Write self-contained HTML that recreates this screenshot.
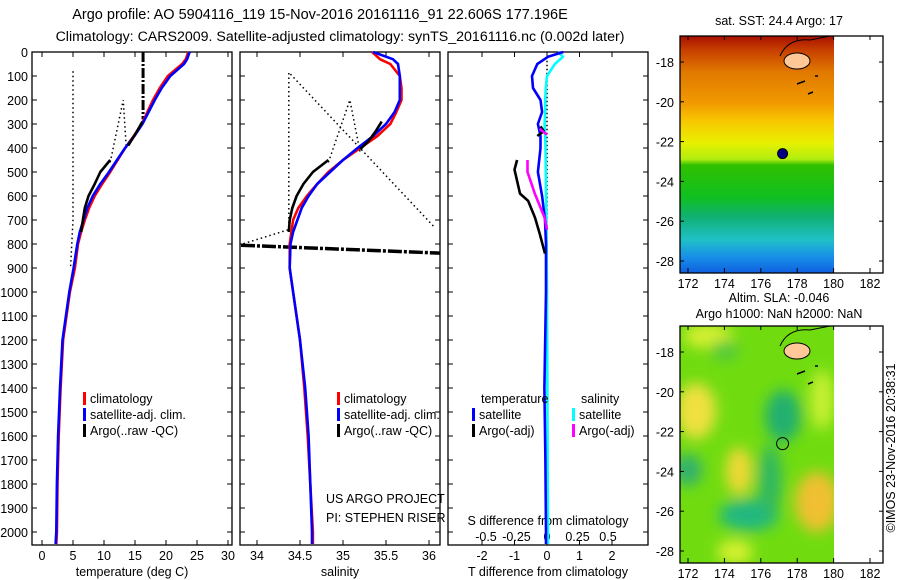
<!DOCTYPE html>
<html><head><meta charset="utf-8"><style>
html,body{margin:0;padding:0;background:#fff;}
svg{display:block;font-family:"Liberation Sans",sans-serif;}
text{font-size:12.5px;fill:#000;}
</style></head><body>
<svg id="c" width="900" height="580" viewBox="0 0 900 580" xmlns="http://www.w3.org/2000/svg">
<defs>
<linearGradient id="sstg" x1="0" y1="0" x2="0" y2="1">
<stop offset="0" stop-color="#a81000"/><stop offset="0.06" stop-color="#c84000"/>
<stop offset="0.15" stop-color="#e07800"/><stop offset="0.28" stop-color="#f09800"/>
<stop offset="0.36" stop-color="#f8c800"/><stop offset="0.45" stop-color="#e8f000"/>
<stop offset="0.52" stop-color="#b0ee10"/><stop offset="0.545" stop-color="#30c000"/>
<stop offset="0.68" stop-color="#10c020"/><stop offset="0.76" stop-color="#10b070"/>
<stop offset="0.86" stop-color="#20c0c8"/><stop offset="0.93" stop-color="#1890e8"/>
<stop offset="1" stop-color="#1060e0"/>
</linearGradient>
<filter id="blur" x="-50%" y="-50%" width="200%" height="200%"><feGaussianBlur stdDeviation="7"/></filter>
<clipPath id="m2clip"><rect x="680" y="326" width="154" height="237"/></clipPath>
</defs>
</svg>
<script>
// ---- data ----
const depthClim = [0,30,50,100,150,200,250,300,350,400,450,500,550,600,650,700,750,800,900,1000,1200,1400,1600,1800,2000,2050];
const tempClim  = [23.6,23.2,22.6,20.3,19.0,17.9,17.0,16.1,14.8,13.4,12.2,11.0,9.7,8.5,7.6,6.9,6.3,5.8,5.3,4.5,3.4,3.0,2.7,2.5,2.4,2.3];
const tempSat   = [23.8,23.4,22.9,20.7,19.3,18.2,17.2,16.2,14.9,13.4,12.1,10.8,9.4,8.2,7.3,6.7,6.1,5.7,5.1,4.4,3.3,2.9,2.6,2.4,2.3,2.2];
const depthArgoT = [290,340,390,420,450,500,550,600,650,700,750];
const tempArgo   = [16.2,15.1,13.9,null,11.0,9.4,8.5,7.5,6.9,6.6,6.3];
const salClim = [35.34,35.43,35.55,35.66,35.68,35.68,35.62,35.55,35.40,35.20,35.00,34.83,34.70,34.58,34.48,34.42,34.40,34.38,34.38,34.42,34.50,34.55,34.59,34.62,34.65,34.65];
const salSat  = [35.35,35.58,35.64,35.66,35.66,35.66,35.60,35.50,35.35,35.17,35.00,34.85,34.70,34.60,34.52,34.47,34.42,34.39,34.38,34.42,34.50,34.56,34.60,34.62,34.64,34.64];
const depthArgoS = [290,330,370,405,430,450,500,550,600,650,700,750];
const salArgo    = [35.45,35.38,35.30,35.20,null,34.83,34.65,34.54,34.46,34.41,34.38,34.37];
const depthDiff = [0,20,50,100,150,200,250,300,350,400,500,600,700,800,1000,1400,1700,2000,2050];
const dTsat = [0.5,0.03,-0.3,-0.46,-0.43,-0.2,-0.15,-0.28,-0.2,-0.2,-0.28,-0.15,-0.06,-0.03,-0.03,-0.08,-0.05,-0.03,-0.03];
const dSsat = [0.09,0.13,0.065,0.0,-0.01,-0.015,-0.015,-0.02,-0.015,-0.012,-0.01,-0.008,-0.005,-0.003,0,0.003,0.005,0.008,0.008];
const depthArgoDT = [310,330,350,400,450,490,590,620,690,760,840];
const dTargo = [-0.2,-0.1,-0.3,null,-0.92,-1.0,-0.83,-0.58,-0.37,-0.22,-0.06];
const depthArgoDS = [320,345,400,450,500,590,690,740];
const dSargo = [-0.06,0.0,null,-0.16,-0.16,-0.1,-0.02,0.0];
const depthTicks = [0,100,200,300,400,500,600,700,800,900,1000,1100,1200,1300,1400,1500,1600,1700,1800,1900,2000];
const tempTicks = [0,5,10,15,20,25,30];
const salTicks = [34,34.5,35,35.5,36];
const dTTicks = [-2,-1,0,1,2];
const dSTicks = [-0.5,-0.25,0,0.25,0.5];
const lonTicks = [172,174,176,178,180,182];
const latTicks = [-18,-20,-22,-24,-26,-28];

// ---- scales ----
const yD = d => 52 + d*0.24;
const xT = t => 42 + t*6.2;
const xS = s => 257 + (s-34)*86;
const xDT = v => 547 + v*32.5;
const xDS = v => 547 + v*122;
const xLon = l => 688 + (l-172)*18.2;
const yLat1 = l => 62 + (-18-l)*19.9;
const yLat2 = l => 352 + (-18-l)*19.9;

const svg = document.getElementById('c');
const NS = 'http://www.w3.org/2000/svg';
function mk(tag, attrs, parent){const e=document.createElementNS(NS,tag);for(const k in attrs)e.setAttribute(k,attrs[k]);(parent||svg).appendChild(e);return e;}
function txt(x,y,s,anchor,extra){const e=mk('text',Object.assign({x:x,y:y,'text-anchor':anchor||'start'},extra||{}));e.textContent=s;return e;}

// ---- titles ----
let t;
t=txt(320,19,'Argo profile: AO 5904116_119 15-Nov-2016 20161116_91 22.606S 177.196E','middle',{style:'font-size:14.5px'});


t=txt(340,41,'Climatology: CARS2009. Satellite-adjusted climatology: synTS_20161116.nc (0.002d later)','middle',{style:'font-size:14.2px'});



// ---- panels ----
const panels=[{x:32,name:'temperature-panel'},{x:240,name:'salinity-panel'},{x:448,name:'difference-panel'}];
panels.forEach(p=>{
  const r=mk('rect',{x:p.x,y:52,width:200,height:493,fill:'none',stroke:'#000','stroke-width':1.3});
  
  
  depthTicks.forEach(d=>{
    mk('line',{x1:p.x,x2:p.x+5,y1:yD(d),y2:yD(d),stroke:'#000'});
    mk('line',{x1:p.x+195,x2:p.x+200,y1:yD(d),y2:yD(d),stroke:'#000'});
  });
});
depthTicks.forEach(d=>{
  const e=txt(28,yD(d)+5,String(d),'end');
  
  
});
function xticks(vals,fx,labelY){
  vals.forEach(v=>{
    const x=fx(v);
    mk('line',{x1:x,x2:x,y1:545,y2:540,stroke:'#000'});
    mk('line',{x1:x,x2:x,y1:52,y2:57,stroke:'#000'});
    const e=txt(x,labelY,String(v),'middle');
    
    
  });
}
xticks(tempTicks,xT,560);
xticks(salTicks,xS,560);
xticks(dTTicks,xDT,560);
dSTicks.forEach(v=>{const e=txt(xDS(v),541,String(v),'middle');
  
  });
t=txt(132,576,'temperature (deg C)','middle');


t=txt(340,576,'salinity','middle');


t=txt(548,576,'T difference from climatology','middle');


t=txt(548,525,'S difference from climatology','middle');



// ---- QC bound lines ----
let l;
l=mk('polyline',{points:`${xT(5)},${yD(80)} ${xT(5)},${yD(700)} ${xT(4.6)},${yD(900)}`,fill:'none',stroke:'#000','stroke-width':1.5,'stroke-dasharray':'1.5,3'});


l=mk('polyline',{points:`${xT(11)},${yD(460)} ${xT(13.1)},${yD(200)} ${xT(13.6)},${yD(400)}`,fill:'none',stroke:'#000','stroke-width':1.5,'stroke-dasharray':'1.5,3'});


l=mk('line',{x1:xT(16.3),x2:xT(16.3),y1:yD(0),y2:yD(280),stroke:'#000','stroke-width':3,'stroke-dasharray':'10,2,2,2'});


l=mk('polyline',{points:`${xS(36.05)},${yD(725)} ${xS(34.37)},${yD(85)} ${xS(34.37)},${yD(740)} ${xS(33.83)},${yD(800)}`,fill:'none',stroke:'#000','stroke-width':1.5,'stroke-dasharray':'1.5,3'});


l=mk('polyline',{points:`${xS(34.83)},${yD(460)} ${xS(35.08)},${yD(200)} ${xS(35.2)},${yD(420)}`,fill:'none',stroke:'#000','stroke-width':1.5,'stroke-dasharray':'1.5,3'});


l=mk('line',{x1:241,y1:yD(805),x2:440,y2:yD(838),stroke:'#000','stroke-width':3.5,'stroke-dasharray':'14,2,3,2'});


l=mk('line',{x1:547,x2:547,y1:yD(20),y2:yD(1450),stroke:'#000','stroke-width':1.5,'stroke-dasharray':'1.5,2.5'});



// ---- profile series (null = gap) ----
function series(vals,ds,fx,color,name){
  let segs=[[]];
  vals.forEach((v,i)=>{ if(v===null){segs.push([]);} else segs[segs.length-1].push(fx(v).toFixed(1)+','+yD(ds[i]).toFixed(1)); });
  const d=segs.filter(s=>s.length).map(s=>'M'+s.join(' L')).join(' ');
  const e=mk('path',{d:d,fill:'none',stroke:color,'stroke-width':2.6,'stroke-linejoin':'round'});
  
  
}
series(tempClim,depthClim,xT,'#ff0000','temp-climatology-line');
series(tempSat,depthClim,xT,'#0000ff','temp-satellite-line');
series(tempArgo,depthArgoT,xT,'#000000','temp-argo-line');
series(salClim,depthClim,xS,'#ff0000','sal-climatology-line');
series(salSat,depthClim,xS,'#0000ff','sal-satellite-line');
series(salArgo,depthArgoS,xS,'#000000','sal-argo-line');
series(dSsat,depthDiff,xDS,'#00ffff','s-diff-satellite-line');
series(dTsat,depthDiff,xDT,'#0000ff','t-diff-satellite-line');
series(dTargo,depthArgoDT,xDT,'#000000','t-diff-argo-line');
series(dSargo,depthArgoDS,xDS,'#ff00ff','s-diff-argo-line');

// ---- legends ----
function leg(x,y,color,label,name){
  mk('rect',{x:x,y:y-11,width:3,height:13,fill:color});
  const e=txt(x+7,y,label);
  
  
}
leg(83,403,'#ff0000','climatology','legend-climatology');
leg(83,419,'#0000ff','satellite-adj. clim.','legend-satellite');
leg(83,435,'#000000','Argo(..raw -QC)','legend-argo');
leg(337,403,'#ff0000','climatology','legend-climatology-s');
leg(337,419,'#0000ff','satellite-adj. clim.','legend-satellite-s');
leg(337,435,'#000000','Argo(..raw -QC)','legend-argo-s');
t=txt(481,403,'temperature');


t=txt(581,403,'salinity');


leg(472,419,'#0000ff','satellite','legend-t-satellite');
leg(472,435,'#000000','Argo(-adj)','legend-t-argo');
leg(572,419,'#00ffff','satellite','legend-s-satellite');
leg(572,435,'#ff00ff','Argo(-adj)','legend-s-argo');
t=txt(326,503,'US ARGO PROJECT');


t=txt(326,522,'PI: STEPHEN RISER');



// ---- maps ----
function mapFrame(top,yLat,name){
  const r=mk('rect',{x:680,y:top,width:203,height:237,fill:'none',stroke:'#000','stroke-width':1.3});
  
  
  lonTicks.forEach(v=>{
    mk('line',{x1:xLon(v),x2:xLon(v),y1:top+237,y2:top+232,stroke:'#000'});
    mk('line',{x1:xLon(v),x2:xLon(v),y1:top,y2:top+4,stroke:'#000'});
    const e=txt(xLon(v),top+252,String(v),'middle');
    
    
  });
  latTicks.forEach(v=>{
    mk('line',{x1:680,x2:684,y1:yLat(v),y2:yLat(v),stroke:'#000'});
    mk('line',{x1:879,x2:883,y1:yLat(v),y2:yLat(v),stroke:'#000'});
    const e=txt(674,yLat(v)+5,String(v),'end');
    
    
  });
}
function island(top){
  mk('ellipse',{cx:797,cy:top+25,rx:13,ry:8,fill:'#ffc896',stroke:'#000','stroke-width':1});
  mk('path',{d:`M780 ${top+20} q8 -18 30 -16 l20 -4`,fill:'none',stroke:'#000','stroke-width':1});
  mk('path',{d:`M797 ${top+48} l8 -3 M808 ${top+58} l5 -2 M815 ${top+40} l3 0`,fill:'none',stroke:'#000','stroke-width':1.5});
}
let m=mk('rect',{x:680,y:36,width:154,height:237,fill:'url(#sstg)'});


island(36);
mapFrame(36,yLat1,'sst-map-frame');
m=mk('circle',{cx:xLon(177.196),cy:yLat1(-22.606),r:5,fill:'#000080',stroke:'#000','stroke-width':1});


t=txt(779,25,'sat. SST: 24.4  Argo: 17','middle');



m=mk('rect',{x:680,y:326,width:154,height:237,fill:'#70dc10'});


const g=mk('g',{'clip-path':'url(#m2clip)'});
const g2=mk('g',{filter:'url(#blur)'},g);
[[696,411,20,28,'#f0e040'],[739,471,13,24,'#f0d838'],[817,502,22,30,'#f0c030'],[708,336,25,12,'#d8f030'],[822,400,12,30,'#c8f030'],[735,552,18,12,'#d8f030'],
 [783,416,18,26,'#20b070'],[749,515,30,16,'#20b880'],[688,470,14,16,'#30b070'],[770,480,12,35,'#30b860'],[725,350,14,10,'#50c840']
].forEach(b=>mk('ellipse',{cx:b[0],cy:b[1],rx:b[2],ry:b[3],fill:b[4]},g2));
island(326);
mapFrame(326,yLat2,'sla-map-frame');
m=mk('circle',{cx:xLon(177.196),cy:yLat2(-22.606),r:6,fill:'none',stroke:'#000','stroke-width':1});


t=txt(779,302,'Altim. SLA: -0.046','middle');


t=txt(779,318,'Argo h1000: NaN h2000: NaN','middle');


t=txt(0,0,'©IMOS 23-Nov-2016 20:38:31','middle',{transform:'translate(895,448) rotate(-90)'});


</script>
</body></html>
